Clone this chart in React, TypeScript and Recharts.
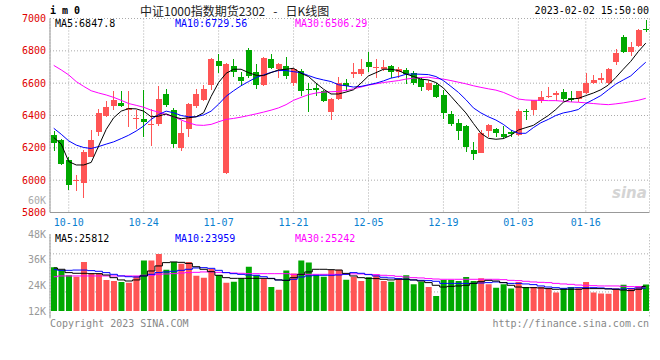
import React from "react";
import { ComposedChart, Bar, Line, XAxis, YAxis, CartesianGrid, Cell } from "recharts";

const dates = [
  "09-29", "09-30",
  "10-10", "10-11", "10-12", "10-13", "10-14",
  "10-17", "10-18", "10-19", "10-20", "10-21",
  "10-24", "10-25", "10-26", "10-27", "10-28",
  "10-31", "11-01", "11-02", "11-03", "11-04",
  "11-07", "11-08", "11-09", "11-10", "11-11",
  "11-14", "11-15", "11-16", "11-17", "11-18",
  "11-21", "11-22", "11-23", "11-24", "11-25",
  "11-28", "11-29", "11-30", "12-01", "12-02",
  "12-05", "12-06", "12-07", "12-08", "12-09",
  "12-12", "12-13", "12-14", "12-15", "12-16",
  "12-19", "12-20", "12-21", "12-22", "12-23",
  "12-26", "12-27", "12-28", "12-29", "12-30",
  "01-03", "01-04", "01-05", "01-06",
  "01-09", "01-10", "01-11", "01-12", "01-13",
  "01-16", "01-17", "01-18", "01-19", "01-20",
  "01-30", "01-31", "02-01", "02-02",
];

const open = [
  6278, 6249, 6125, 5992, 5984, 6145, 6298, 6396, 6461, 6478,
  6437, 6376, 6376, 6339, 6349, 6535, 6431, 6202, 6319, 6457,
  6494, 6586, 6737, 6046, 6706, 6641, 6804, 6670, 6590, 6747,
  6686, 6706, 6604, 6676, 6566, 6570, 6549, 6421, 6499, 6604,
  6655, 6655, 6731, 6692, 6690, 6706, 6666, 6680, 6661, 6625,
  6560, 6586, 6529, 6407, 6356, 6336, 6187, 6168, 6305, 6315,
  6285, 6299, 6279, 6429, 6433, 6489, 6515, 6529, 6543, 6510,
  6499, 6539, 6604, 6620, 6600, 6733, 6886, 6790, 6829, 6933,
];
const high = [
  6304, 6253, 6141, 6035, 6188, 6308, 6443, 6492, 6553, 6549,
  6549, 6431, 6559, 6441, 6584, 6563, 6447, 6365, 6478, 6565,
  6590, 6757, 6780, 6723, 6747, 6672, 6818, 6718, 6760, 6780,
  6727, 6759, 6696, 6690, 6600, 6594, 6559, 6508, 6637, 6627,
  6722, 6749, 6794, 6749, 6743, 6710, 6702, 6696, 6676, 6635,
  6620, 6600, 6559, 6427, 6376, 6340, 6233, 6308, 6345, 6325,
  6335, 6310, 6443, 6443, 6498, 6549, 6574, 6553, 6563, 6549,
  6553, 6665, 6651, 6661, 6696, 6809, 6897, 6852, 6938, 6990,
];
const low = [
  6182, 6096, 5941, 5933, 5892, 6141, 6274, 6392, 6431, 6451,
  6329, 6314, 6268, 6212, 6335, 6453, 6202, 6182, 6268, 6447,
  6488, 6559, 6661, 6040, 6641, 6584, 6631, 6567, 6580, 6686,
  6635, 6627, 6580, 6518, 6421, 6523, 6486, 6372, 6497, 6549,
  6635, 6647, 6672, 6635, 6676, 6635, 6635, 6594, 6590, 6549,
  6549, 6508, 6376, 6335, 6249, 6172, 6125, 6165, 6264, 6264,
  6253, 6264, 6274, 6372, 6406, 6478, 6508, 6488, 6488, 6484,
  6482, 6535, 6596, 6604, 6594, 6712, 6784, 6767, 6825, 6914,
];
const close = [
  6229, 6100, 5972, 5998, 6172, 6247, 6416, 6451, 6498, 6461,
  6447, 6382, 6359, 6345, 6504, 6467, 6223, 6290, 6474, 6535,
  6565, 6749, 6708, 6716, 6666, 6615, 6645, 6590, 6755, 6696,
  6718, 6645, 6686, 6554, 6556, 6560, 6492, 6499, 6600, 6580,
  6666, 6688, 6702, 6702, 6700, 6666, 6688, 6655, 6600, 6576,
  6604, 6513, 6417, 6346, 6305, 6207, 6162, 6291, 6342, 6291,
  6264, 6285, 6427, 6421, 6495, 6513, 6523, 6539, 6499, 6495,
  6549, 6604, 6617, 6631, 6688, 6784, 6790, 6821, 6928, 6927,
];

const ma5 = [
  6264, 6223, 6115, 6094, 6094, 6110, 6212, 6314, 6386, 6427,
  6443, 6441, 6427, 6392, 6396, 6410, 6392, 6380, 6386, 6392,
  6417, 6518, 6604, 6661, 6686, 6686, 6665, 6649, 6647, 6665,
  6682, 6686, 6692, 6661, 6641, 6600, 6563, 6533, 6533, 6545,
  6559, 6600, 6645, 6665, 6686, 6686, 6678, 6657, 6641, 6625,
  6620, 6604, 6570, 6519, 6467, 6416, 6351, 6290, 6259, 6253,
  6257, 6278, 6310, 6325, 6339, 6370, 6400, 6437, 6482, 6502,
  6506, 6523, 6539, 6559, 6588, 6635, 6686, 6735, 6795, 6847.8,
];
const ma10 = [
  6321, 6284, 6243, 6217, 6202, 6196, 6208, 6223, 6237, 6257,
  6278, 6304, 6335, 6376, 6406, 6427, 6417, 6400, 6392, 6392,
  6404, 6427, 6470, 6519, 6553, 6584, 6610, 6635, 6651, 6667,
  6678, 6678, 6671, 6665, 6647, 6631, 6620, 6610, 6590, 6584,
  6576, 6580, 6590, 6600, 6614, 6631, 6641, 6655, 6657, 6655,
  6653, 6641, 6616, 6580, 6543, 6498, 6447, 6416, 6392, 6372,
  6345, 6310, 6290, 6290, 6325, 6355, 6376, 6400, 6416, 6425,
  6437, 6474, 6498, 6523, 6559, 6594, 6620, 6645, 6688, 6729.56,
];
const ma30 = [
  6710, 6682, 6651, 6610, 6580, 6553, 6539, 6527, 6512, 6494,
  6474, 6463, 6451, 6433, 6421, 6406, 6392, 6372, 6355, 6341,
  6339, 6345, 6361, 6376, 6382, 6390, 6400, 6410, 6421, 6433,
  6447, 6467, 6494, 6512, 6529, 6539, 6545, 6547, 6549, 6555,
  6565, 6576, 6588, 6596, 6604, 6610, 6616, 6625, 6631, 6635,
  6637, 6629, 6625, 6616, 6606, 6596, 6584, 6574, 6565, 6557,
  6543, 6523, 6502, 6496, 6494, 6494, 6492, 6492, 6488, 6484,
  6482, 6478, 6474, 6470, 6467, 6472, 6478, 6486, 6494, 6506.29,
];

const volume = [
  46000, 43000, 37500, 36000, 51500, 39500, 39500, 32500, 31500, 30500,
  29700, 36800, 52900, 52900, 59900, 43400, 51500, 49700, 51500, 37100,
  35000, 44100, 37800, 29700, 30800, 34300, 46500, 37500, 34000, 25200,
  22400, 42400, 39500, 52900, 50800, 37800, 36000, 43000, 43400, 32700,
  36000, 31500, 35400, 37500, 31500, 30800, 33300, 37500, 28000, 30800,
  25200, 15800, 32500, 32500, 31500, 35700, 31500, 34300, 28000, 24500,
  28000, 23500, 30500, 25200, 25200, 25200, 23500, 19300, 23500, 25200,
  24000, 30500, 19500, 18500, 18000, 23500, 27500, 24000, 26200, 27900,
];
const vma5 = [
  45200, 43800, 40300, 39600, 39600, 39200, 39200, 37800, 35000, 32600,
  31500, 32600, 36800, 42000, 47300, 50800, 51500, 51100, 50000, 46500,
  43800, 41300, 37500, 35000, 34300, 34300, 34300, 34300, 34300, 34000,
  32600, 32200, 35000, 38500, 41000, 43800, 43800, 43400, 43000, 39500,
  36800, 35000, 34300, 34000, 33300, 32600, 33300, 33300, 32600, 31500,
  29800, 27000, 25200, 25900, 26300, 27000, 29000, 30800, 32200, 31500,
  29800, 27000, 25200, 24500, 24500, 24200, 23500, 22800, 22800, 22800,
  22800, 23500, 23500, 23500, 23100, 22800, 22000, 21400, 22800, 25812,
];
const vma10 = [
  43400, 42700, 42700, 43000, 43000, 42400, 41700, 40300, 38500, 36800,
  36000, 35700, 36800, 38500, 40300, 41000, 41700, 42700, 43800, 45200,
  45500, 44800, 42700, 40300, 39200, 38500, 37800, 37500, 36000, 34300,
  32600, 32200, 33300, 35700, 36800, 37500, 37500, 37500, 37800, 38500,
  40300, 39600, 38200, 36800, 35400, 34700, 34000, 33300, 32600, 32200,
  31900, 31200, 29000, 29000, 29000, 29000, 29000, 29400, 29800, 30500,
  29800, 29000, 29000, 28400, 27700, 26300, 25200, 24500, 23800, 24200,
  24500, 24500, 24500, 24200, 23500, 23100, 23100, 23500, 24200, 23959,
];
const vma30 = [
  36000, 36800, 36800, 36800, 36800, 36800, 36800, 36800, 36800, 36800,
  36800, 36800, 37500, 37500, 38500, 38900, 39200, 39900, 40300, 40600,
  41000, 41000, 40600, 40300, 39900, 39600, 39200, 39200, 39200, 39200,
  39200, 39200, 38500, 38500, 38500, 38500, 38500, 38500, 38500, 38800,
  39000, 38900, 38500, 38200, 37500, 37100, 36400, 35700, 35000, 34700,
  34000, 33600, 33300, 33300, 33300, 33300, 33300, 33300, 33300, 33300,
  32900, 32200, 31900, 31200, 30500, 30100, 29800, 29000, 28400, 28000,
  27300, 27000, 26600, 26300, 26300, 26300, 25900, 25600, 25600, 25242,
];

const priceTicks = [5800, 6000, 6200, 6400, 6600, 6800, 7000];
const dateTicks = ["10-10", "10-24", "11-07", "11-21", "12-05", "12-19", "01-03", "01-16"];
const volLabelTicks = [12000, 24000, 36000, 48000];
const volGridTicks = [20000, 40000, 60000];

const UP = "#ff5555";
const DOWN = "#00a800";
const MONO = "'DejaVu Sans Mono', 'Liberation Mono', monospace";
const FRAME = "#999";

const rows = dates.map((date, i) => ({
  date,
  open: open[i],
  high: high[i],
  low: low[i],
  close: close[i],
  up: close[i] >= open[i],
  ma5: ma5[i],
  ma10: ma10[i],
  ma30: ma30[i],
  vol: volume[i],
  vma5: vma5[i],
  vma10: vma10[i],
  vma30: vma30[i],
}));

const last = rows[rows.length - 1];

// candle drawn inside the [low, high] bar that recharts positions for us
const Candle = (props: any) => {
  const { x, y, width, height, payload } = props;
  if (!payload || height == null) return null;
  const top = Math.min(y, y + height);
  const h = Math.abs(height);
  const k = h / (payload.high - payload.low);
  const yo = top + (payload.high - payload.open) * k;
  const yc = top + (payload.high - payload.close) * k;
  const color = payload.up ? UP : DOWN;
  const cx = x + width / 2;
  return (
    <g shapeRendering="crispEdges">
      <rect x={cx - 0.5} y={top} width={1} height={Math.max(1, h)} fill={color} />
      <rect
        x={x}
        y={Math.min(yo, yc)}
        width={width}
        height={Math.max(1, Math.abs(yo - yc))}
        fill={color}
      />
    </g>
  );
};

const txt = (extra: React.CSSProperties): React.CSSProperties => ({
  position: "absolute",
  fontFamily: MONO,
  fontSize: 10,
  lineHeight: "12px",
  whiteSpace: "pre",
  ...extra,
});

export default function App() {
  return (
    <div
      style={{
        position: "absolute",
        left: 0,
        top: 0,
        width: 660,
        height: 360,
        background: "#fff",
        overflow: "hidden",
      }}
    >
      <div style={{ position: "absolute", left: 0, top: 0 }}>
        <ComposedChart
          width={660}
          height={232}
          data={rows}
          margin={{ top: 18.5, right: 10.5, bottom: 0, left: 0 }}
        >
          <CartesianGrid stroke="#aaa" strokeDasharray="1 2" />
          <XAxis
            dataKey="date"
            ticks={dateTicks}
            interval={0}
            height={19.5}
            tickSize={0}
            tickMargin={6}
            tickLine={false}
            axisLine={{ stroke: FRAME }}
            tick={{ fill: "#0a7fd0", fontSize: 10, fontFamily: MONO }}
          />
          <XAxis
            xAxisId="t"
            dataKey="date"
            orientation="top"
            height={0}
            tick={false}
            tickLine={false}
            axisLine={{ stroke: FRAME }}
          />
          <YAxis
            domain={[5800, 7000]}
            ticks={priceTicks}
            width={50}
            tickSize={0}
            tickMargin={4}
            tickLine={false}
            axisLine={{ stroke: FRAME }}
            tick={{ fill: "#e00000", fontSize: 10, fontFamily: MONO }}
          />
          <YAxis
            yAxisId="r"
            orientation="right"
            domain={[0, 1]}
            width={0}
            tick={false}
            tickLine={false}
            axisLine={{ stroke: FRAME }}
          />
          <Bar
            dataKey={(d: any) => [d.low, d.high]}
            barSize={6}
            shape={Candle}
            isAnimationActive={false}
          />
          <Line dataKey="ma30" type="linear" stroke="#ff00ff" strokeWidth={1} dot={false} isAnimationActive={false} />
          <Line dataKey="ma10" type="linear" stroke="#0000ff" strokeWidth={1} dot={false} isAnimationActive={false} />
          <Line dataKey="ma5" type="linear" stroke="#000" strokeWidth={1} dot={false} isAnimationActive={false} />
        </ComposedChart>
      </div>

      <div style={{ position: "absolute", left: 0, top: 226 }}>
        <ComposedChart
          width={660}
          height={100}
          data={rows}
          margin={{ top: 8.3, right: 10.5, bottom: 7.7, left: 0 }}
        >
          <CartesianGrid
            stroke="#aaa"
            strokeDasharray="1 2"
            yAxisId="v"
            horizontalValues={volGridTicks}
          />
          <XAxis
            dataKey="date"
            ticks={dateTicks}
            interval={0}
            height={0}
            tick={false}
            tickLine={false}
            axisLine={{ stroke: FRAME }}
          />
          <XAxis
            xAxisId="t"
            dataKey="date"
            orientation="top"
            height={0}
            tick={false}
            tickLine={false}
            axisLine={{ stroke: FRAME }}
          />
          <YAxis
            yAxisId="lab"
            domain={[8570, 48000]}
            ticks={volLabelTicks}
            allowDataOverflow
            width={50}
            tickSize={0}
            tickMargin={4}
            tickLine={false}
            axisLine={{ stroke: FRAME }}
            tickFormatter={(v: number) => `${v / 1000}K`}
            tick={{ fill: "#999", fontSize: 10, fontFamily: MONO }}
          />
          <YAxis yAxisId="v" hide domain={[-7665, 80535]} ticks={volGridTicks} allowDataOverflow />
          <YAxis
            yAxisId="r"
            orientation="right"
            domain={[0, 1]}
            width={0}
            tick={false}
            tickLine={false}
            axisLine={{ stroke: FRAME }}
          />
          <Bar yAxisId="v" dataKey="vol" barSize={6} isAnimationActive={false}>
            {rows.map((r) => (
              <Cell key={r.date} fill={r.up ? UP : DOWN} />
            ))}
          </Bar>
          <Line yAxisId="v" dataKey="vma30" type="step" stroke="#ff00ff" strokeWidth={1} dot={false} isAnimationActive={false} />
          <Line yAxisId="v" dataKey="vma10" type="step" stroke="#0000ff" strokeWidth={1} dot={false} isAnimationActive={false} />
          <Line yAxisId="v" dataKey="vma5" type="step" stroke="#000" strokeWidth={1} dot={false} isAnimationActive={false} />
        </ComposedChart>
      </div>

      <span style={txt({ left: 50, top: 5, fontWeight: "bold", color: "#000" })}>i m 0</span>
      <span
        style={{
          position: "absolute",
          left: 140,
          top: 3,
          fontFamily: "'Noto Sans CJK SC', sans-serif",
          fontSize: 12,
          lineHeight: "16px",
          whiteSpace: "pre",
          color: "#222",
        }}
      >
        中证1000指数期货2302   -   日K线图
      </span>
      <span style={txt({ right: 11, top: 5, color: "#000" })}>2023-02-02 15:50:00</span>

      <span style={txt({ left: 55, top: 18, color: "#000" })}>MA5:{last.ma5}</span>
      <span style={txt({ left: 175, top: 18, color: "#0000ff" })}>MA10:{last.ma10}</span>
      <span style={txt({ left: 295, top: 18, color: "#ff00ff" })}>MA30:{last.ma30}</span>

      <span style={txt({ right: 614, top: 195, color: "#aaa" })}>60K</span>
      <span
        style={{
          position: "absolute",
          left: 612,
          top: 184,
          fontFamily: "'DejaVu Sans', sans-serif",
          fontSize: 15,
          fontWeight: "bold",
          fontStyle: "italic",
          color: "#d4d4d4",
        }}
      >
        sina
      </span>

      <span style={txt({ left: 55, top: 232.5, color: "#000" })}>MA5:{last.vma5}</span>
      <span style={txt({ left: 175, top: 232.5, color: "#0000ff" })}>MA10:{last.vma10}</span>
      <span style={txt({ left: 295, top: 232.5, color: "#ff00ff" })}>MA30:{last.vma30}</span>

      <span style={txt({ left: 50, top: 318, color: "#888" })}>Copyright 2023 SINA.COM</span>
      <span style={txt({ right: 11, top: 318, color: "#888" })}>http://finance.sina.com.cn</span>
    </div>
  );
}
